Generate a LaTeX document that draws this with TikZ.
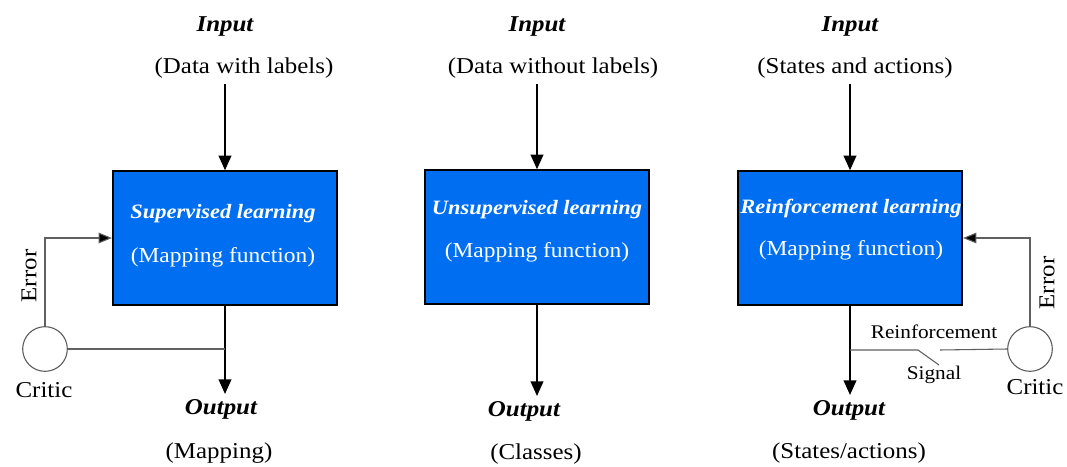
\documentclass[tikz,border=0pt]{standalone}
\usepackage{fontspec}
\setmainfont[FakeStretch=1.1]{Liberation Serif}
\usetikzlibrary{arrows.meta}
\begin{document}
\begin{tikzpicture}[x=0.75pt,y=-0.75pt,
  lbl/.style={font=\fontsize{17}{19}\selectfont, inner sep=0pt},
  ttl/.style={font=\fontsize{17}{19}\selectfont\bfseries\itshape, inner sep=0pt},
  boxtxt/.style={text=white, font=\fontsize{16}{18}\selectfont, inner sep=0pt},
  boxttl/.style={text=white, font=\fontsize{15.3}{17}\selectfont\bfseries\itshape, inner sep=0pt},
  small/.style={font=\fontsize{14.5}{16}\selectfont, inner sep=0pt},
  learnbox/.style={draw=black, line width=1.6pt, fill=blueboxc, minimum width=168pt, minimum height=100pt, inner sep=0pt},
  mainarrow/.style={draw=black, line width=1.4pt, -{Triangle[length=11pt,width=9.5pt]}},
  fb/.style={draw=gray!75!black, line width=0.8pt},
  fbarrow/.style={fb, -{Triangle[length=10pt,width=8pt,fill=black]}},
  critic/.style={circle, draw=gray!70!black, line width=0.8pt, minimum size=33.5pt, inner sep=0pt}]
\definecolor{blueboxc}{RGB}{0,110,240}
\useasboundingbox (0,0) rectangle (1067,467);

% --- Supervised
\node[ttl] (in1) at (225,26) {Input};
\node[lbl] (in1d) at (244,68) {(Data with labels)};
\node[learnbox] (b1) at (225,238) {};
\node[boxttl] (b1t) at (223,214) {Supervised learning};
\node[boxtxt] (b1d) at (223,257) {(Mapping function)};
\coordinate (in1s) at (225,84);
\draw[mainarrow] (in1s) -- (b1.north);
\coordinate (out1e) at (225,394);
\draw[mainarrow] (b1.south) -- (out1e);
\node[ttl] (out1) at (221,409) {Output};
\node[lbl] (out1d) at (219,453) {(Mapping)};
\node[critic] (c1) at (45,349) {};
\node[lbl] (c1l) at (44,390) {Critic};
\node[lbl, rotate=90] (e1) at (29,276) {Error};
\coordinate (c1k) at (45,238);
\draw[fbarrow] (c1.north) -- (c1k) -- (b1.west |- c1k);
\coordinate (c1j) at (225,349);
\draw[fb] (c1.east) -- (c1j);

% --- Unsupervised
\node[ttl] (in2) at (537,26) {Input};
\node[lbl] (in2d) at (553,68) {(Data without labels)};
\node[learnbox] (b2) at (537,237) {};
\node[boxttl] (b2t) at (537,210) {Unsupervised learning};
\node[boxtxt] (b2d) at (537,252) {(Mapping function)};
\coordinate (in2s) at (537,84);
\draw[mainarrow] (in2s) -- (b2.north);
\coordinate (out2e) at (537,396);
\draw[mainarrow] (b2.south) -- (out2e);
\node[ttl] (out2) at (524,411) {Output};
\node[lbl] (out2d) at (536,454) {(Classes)};

% --- Reinforcement
\node[ttl] (in3) at (850,26) {Input};
\node[lbl] (in3d) at (855,68) {(States and actions)};
\node[learnbox] (b3) at (850,238) {};
\node[boxttl] (b3t) at (851,208) {Reinforcement learning};
\node[boxtxt] (b3d) at (851,250) {(Mapping function)};
\coordinate (in3s) at (850,84);
\draw[mainarrow] (in3s) -- (b3.north);
\coordinate (out3e) at (850,395);
\draw[mainarrow] (b3.south) -- (out3e);
\node[ttl] (out3) at (849,410) {Output};
\node[lbl] (out3d) at (849,453) {(States/actions)};
\node[critic] (c3) at (1030,349) {};
\node[lbl] (c3l) at (1035,387) {Critic};
\node[lbl, rotate=90] (e3) at (1047,283) {Error};
\coordinate (c3k) at (1030,238);
\draw[fbarrow] (c3.north) -- (c3k) -- (b3.east |- c3k);
\coordinate (s1) at (850,350);
\coordinate (s2) at (918,350);
\coordinate (s3) at (939,365);
\coordinate (s4) at (940,350);
\draw[fb] (s1) -- (s2) -- (s3);
\draw[fb] (s4) -- (c3.west);
\node[small] (rl) at (934,332) {Reinforcement};
\node[small] (sl) at (934,375) {Signal};
\end{tikzpicture}
\end{document}
